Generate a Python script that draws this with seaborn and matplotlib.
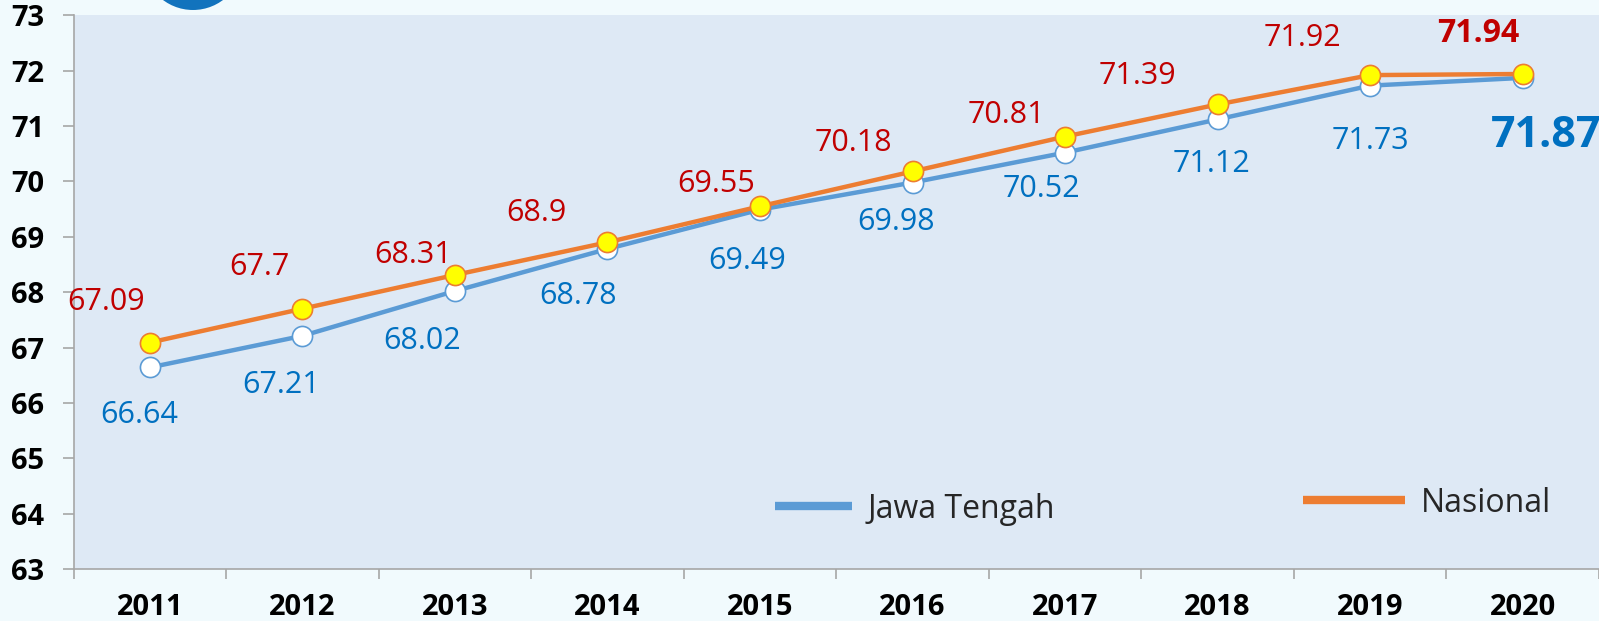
import numpy as np
import pandas as pd
import seaborn as sns
import matplotlib.pyplot as plt
from matplotlib.lines import Line2D
from matplotlib.patches import Circle

sns.set_theme(style='white')
plt.rcParams['font.family'] = ['Open Sans', 'DejaVu Sans']

###----- data -----###
years = ['2011', '2012', '2013', '2014', '2015', '2016', '2017', '2018', '2019', '2020']
jawa_tengah = [66.64, 67.21, 68.02, 68.78, 69.49, 69.98, 70.52, 71.12, 71.73, 71.87]
nasional = [67.09, 67.7, 68.31, 68.9, 69.55, 70.18, 70.81, 71.39, 71.92, 71.94]
nasional_lbl = ['67.09', '67.7', '68.31', '68.9', '69.55', '70.18', '70.81', '71.39', '71.92', '71.94']

df = pd.DataFrame({'pos': np.arange(len(years)), 'year': years,
                   'Jawa Tengah': jawa_tengah, 'Nasional': nasional})

# label offsets in pixels (dx, dy) relative to the point
red_off = [(-44, 41), (-43, 42), (-42, 20), (-71, 29), (-44, 22), (-59, 28), (-59, 22), (-80, 28), (-68, 37), (-44, 40)]
blue_off = [(-11, -48), (-21, -49), (-33, -50), (-29, -47), (-13, -51), (-16, -39), (-24, -36), (-6, -45), (0, -55), (23, -58)]

c_blue_line = '#5B9BD5'
c_orange_line = '#ED7D31'
c_red_txt = '#C00000'
c_blue_txt = '#0070C0'

W, H = 1599, 621
ax_l, ax_t, ax_b = 73.5, 15.3, 569.0
step = 154.0
ax_w, ax_h = W - ax_l, ax_b - ax_t

fig = plt.figure(figsize=(W / 100, H / 100), dpi=100, facecolor='#F1FAFD')
ax = fig.add_axes([ax_l / W, 1 - ax_b / H, ax_w / W, ax_h / H])
ax.set_facecolor('#DEE9F5')

sns.lineplot(data=df, x='pos', y='Jawa Tengah', ax=ax, color=c_blue_line, lw=3.2,
             marker='o', markersize=14.5, markerfacecolor='white', markeredgecolor=c_blue_line,
             markeredgewidth=1.2, zorder=3)
sns.lineplot(data=df, x='pos', y='Nasional', ax=ax, color=c_orange_line, lw=3.2,
             marker='o', markersize=14.5, markerfacecolor='#FFFF00', markeredgecolor=c_orange_line,
             markeredgewidth=1.2, zorder=4)

# data labels
for i in range(len(years)):
    last = i == len(years) - 1
    ax.annotate(nasional_lbl[i], (df['pos'][i], nasional[i]), xytext=red_off[i],
                textcoords='offset pixels', ha='center', va='center',
                color=c_red_txt, fontsize=23 if last else 22,
                fontweight='bold' if last else 'normal', annotation_clip=False)
    ax.annotate(f'{jawa_tengah[i]:.2f}', (df['pos'][i], jawa_tengah[i]), xytext=blue_off[i],
                textcoords='offset pixels', ha='center', va='center',
                color=c_blue_txt, fontsize=31 if last else 22,
                fontweight='bold' if last else 'normal', annotation_clip=False)

ax.set_ylim(63, 73)
ax.set_xlim(-0.5, -0.5 + ax_w / step)
ax.set_yticks(range(63, 74))
ax.set_xticks(df['pos'])
ax.set_xticklabels(years)
ax.set_xticks(np.arange(-0.5, 10, 1), minor=True)
ax.tick_params(bottom=True, left=True, which='both')
ax.tick_params(axis='x', which='major', length=0, pad=17, labelsize=21)
ax.tick_params(axis='x', which='minor', length=7, width=1.2, color='#A6A6A6', direction='out')
ax.tick_params(axis='y', length=8, width=1.2, color='#A6A6A6', direction='out', pad=13, labelsize=21)
for lab in ax.get_xticklabels() + ax.get_yticklabels():
    lab.set_fontweight('bold')
    lab.set_color('black')
ax.set_xlabel('')
ax.set_ylabel('')
for s in ['top', 'right']:
    ax.spines[s].set_visible(False)
for s in ['left', 'bottom']:
    ax.spines[s].set_color('#A6A6A6')
    ax.spines[s].set_linewidth(1.2)
ax.grid(False)

# two separate legends like the original
h1 = [Line2D([], [], color=c_blue_line, lw=6, solid_capstyle='butt')]
h2 = [Line2D([], [], color=c_orange_line, lw=6, solid_capstyle='butt')]
leg_kw = dict(loc='center left', frameon=False, fontsize=23, handletextpad=0.5,
              borderaxespad=0, borderpad=0)
leg1 = ax.legend(h1, ['Jawa Tengah'], bbox_to_anchor=((775 - ax_l) / ax_w, (ax_b - 509) / ax_h),
                 handlelength=2.4, **leg_kw)
ax.add_artist(leg1)
ax.legend(h2, ['Nasional'], bbox_to_anchor=((1303 - ax_l) / ax_w, (ax_b - 503) / ax_h),
          handlelength=3.2, **leg_kw)

# bit of the cut-off header icon
fig.patches.append(Circle((1.93, H / 100 + 0.40), 0.50, transform=fig.dpi_scale_trans,
                          facecolor='#1273BD', edgecolor='none'))

fig.savefig('out.png', dpi=100, facecolor=fig.get_facecolor())
